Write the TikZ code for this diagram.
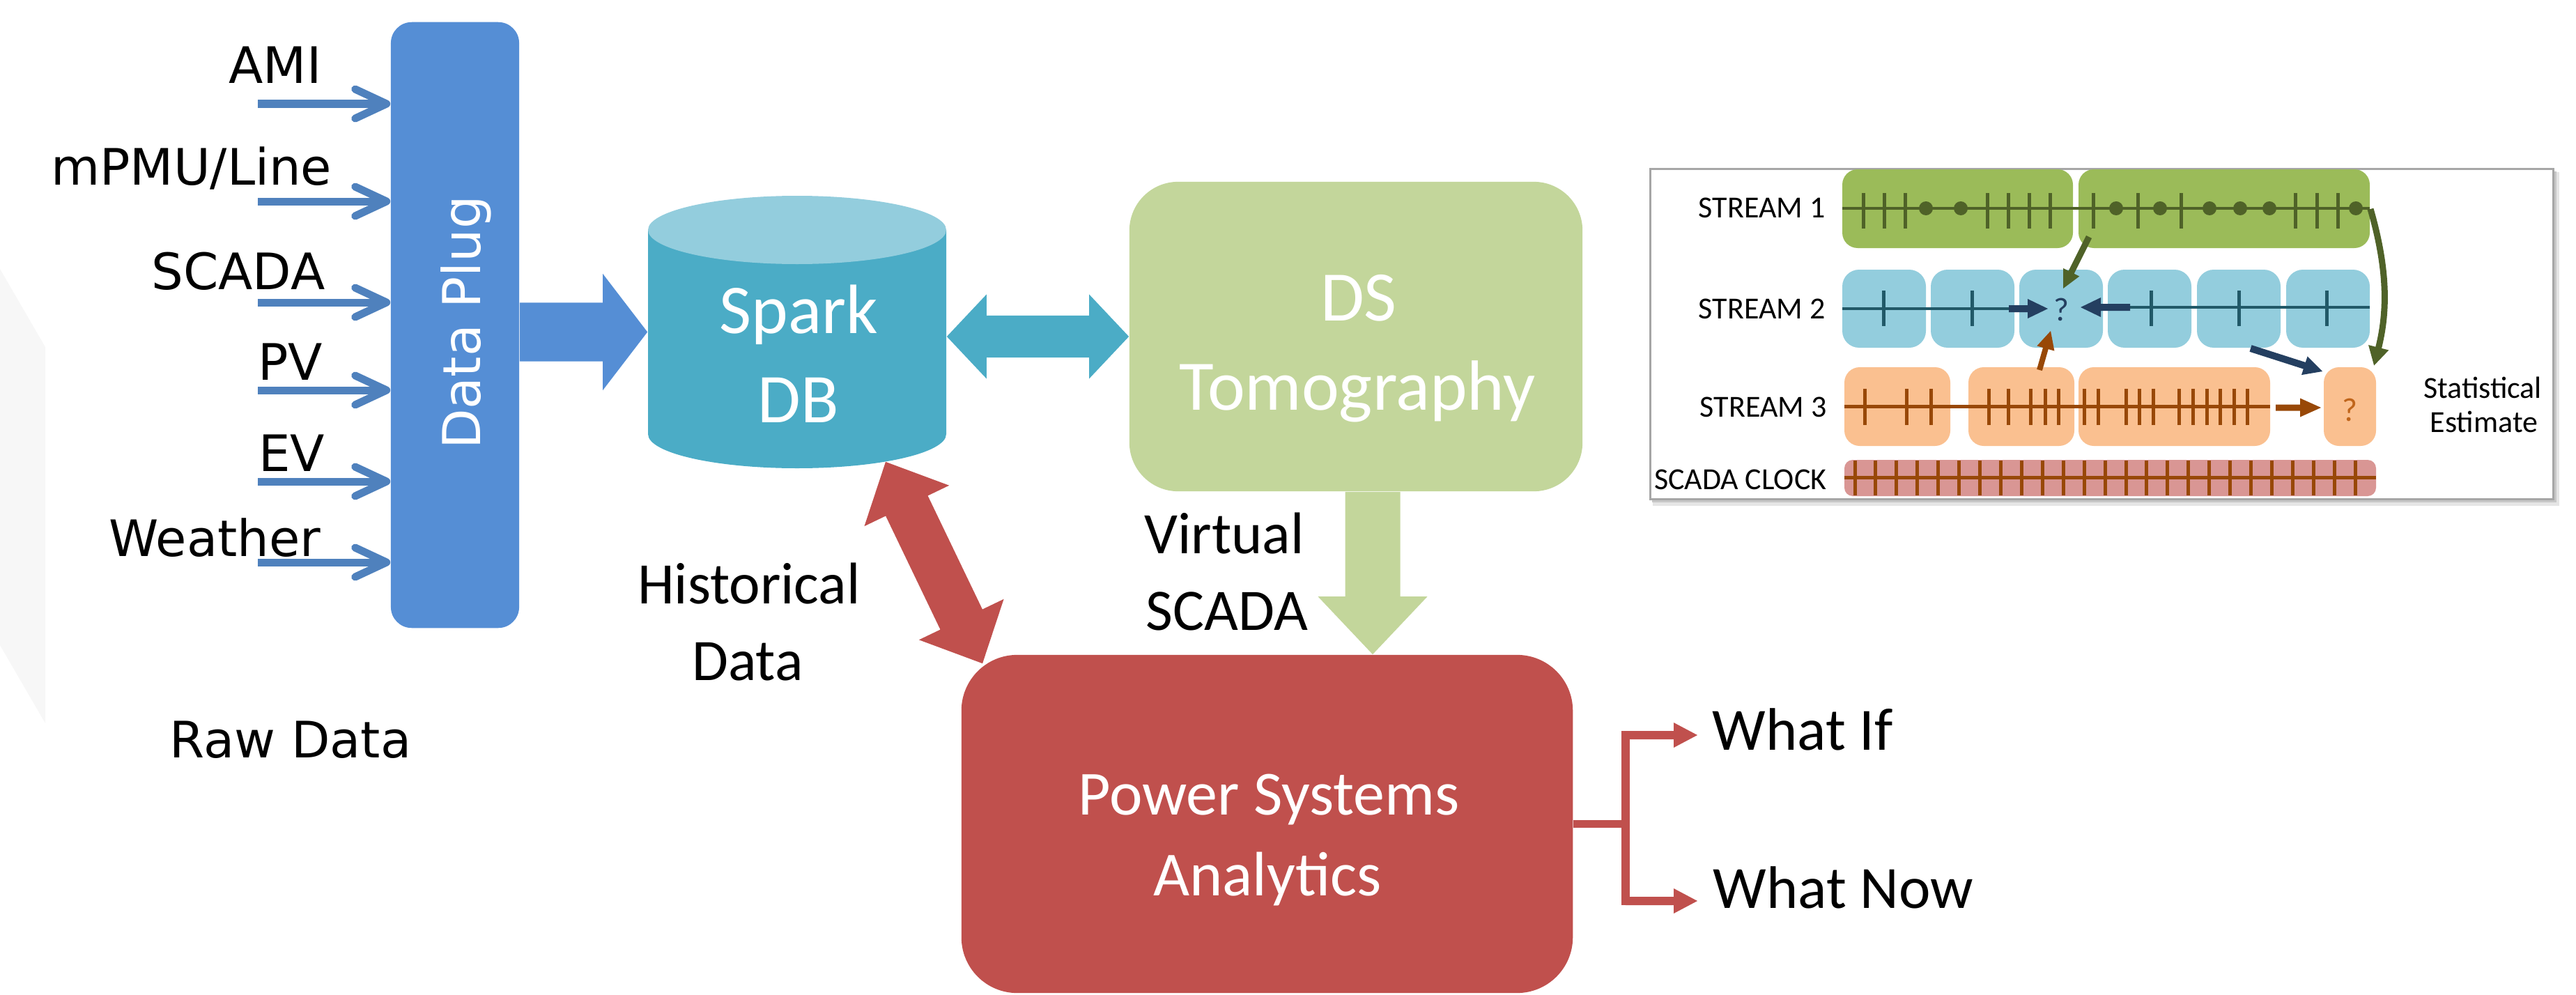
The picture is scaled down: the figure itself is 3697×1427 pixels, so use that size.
\documentclass[tikz,border=0pt]{standalone}
\usepackage{fontspec}
\setmainfont{Carlito}
\newfontfamily\dvs{DejaVu Sans}
\usetikzlibrary{calc,arrows.meta}

\definecolor{dpblue}{HTML}{558ED5}
\definecolor{arrblue}{HTML}{4F81BD}
\definecolor{sparkbody}{HTML}{4BACC6}
\definecolor{sparktop}{HTML}{93CDDD}
\definecolor{dsgreen}{HTML}{C3D69B}
\definecolor{psared}{HTML}{C0504D}
\definecolor{gone}{HTML}{9BBB59}
\definecolor{goned}{HTML}{4F6228}
\definecolor{btwo}{HTML}{93CDDD}
\definecolor{btwod}{HTML}{215968}
\definecolor{navy}{HTML}{243F60}
\definecolor{othree}{HTML}{FAC090}
\definecolor{othreed}{HTML}{984807}
\definecolor{oq}{HTML}{C0651B}
\definecolor{clk}{HTML}{D99694}

% block arrow, single head: #1 start, #2 tip, #3 shaft half width, #4 head length, #5 head half width, #6 colour
\newcommand{\blkarrow}[6]{%
  \coordinate (qH) at ($(#2)!#4!(#1)$);
  \fill[#6] ($(#1)!#3!90:(#2)$) -- ($(qH)!#3!90:(#2)$) -- ($(qH)!#5!90:(#2)$) -- (#2)
    -- ($(qH)!#5!-90:(#2)$) -- ($(qH)!#3!-90:(#2)$) -- ($(#1)!#3!-90:(#2)$) -- cycle;}
% block arrow, two heads
\newcommand{\blkdarrow}[6]{%
  \coordinate (qA) at ($(#1)!#4!(#2)$);
  \coordinate (qB) at ($(#2)!#4!(#1)$);
  \fill[#6] (#1) -- ($(qA)!#5!90:(#2)$) -- ($(qA)!#3!90:(#2)$) -- ($(qB)!#3!90:(#2)$)
    -- ($(qB)!#5!90:(#2)$) -- (#2) -- ($(qB)!#5!-90:(#2)$) -- ($(qB)!#3!-90:(#2)$)
    -- ($(qA)!#3!-90:(#2)$) -- ($(qA)!#5!-90:(#2)$) -- cycle;}

\begin{document}
\begin{tikzpicture}[x=0.01cm,y=-0.01cm,
  lbl/.style={font=\dvs\fontsize{20.5pt}{24pt}\selectfont, inner sep=0pt, text=black},
  inarr/.style={draw=arrblue, line width=0.11cm, -{Straight Barb[length=0.45cm,width=0.42cm,round]}},
  big/.style={font=\fontsize{28.5pt}{34pt}\selectfont, text=white, inner sep=0pt, anchor=base},
  mid/.style={font=\fontsize{24pt}{29pt}\selectfont, inner sep=0pt, anchor=base},
  ins/.style={font=\fontsize{12.5pt}{15pt}\selectfont, inner sep=0pt},
  tick/.style={line width=0.05cm},
  psaline/.style={draw=psared, line width=0.115cm},
]
\useasboundingbox (0,0) rectangle (3697,1427);

% faint background shape
\fill[black!3] (0,386) -- (65,498) -- (65,1038) -- (0,926) -- cycle;

% ---------- Data Plug ----------
\node[fill=dpblue, rounded corners=0.3cm, minimum width=1.84cm, minimum height=8.69cm, inner sep=0pt] (dp) at (653,466.5) {};
\node[rotate=90, anchor=base, text=white, font=\dvs\fontsize{21.3pt}{25pt}\selectfont, inner sep=0pt] (dptext) at (689,463) {Data Plug};

\node[lbl, anchor=base east] (lami) at (462,119) {AMI};
\node[lbl, anchor=base east] (lpmu) at (477,265) {mPMU/Line};
\node[lbl, anchor=base east] (lscada) at (467,415) {SCADA};
\node[lbl, anchor=base east] (lpv) at (464,545) {PV};
\node[lbl, anchor=base east] (lev) at (467,676) {EV};
\node[lbl, anchor=base east] (lweather) at (461,798) {Weather};
\node[lbl, anchor=base] (lraw) at (417,1087) {Raw Data};

\foreach \n/\yy in {1/149,2/289,3/434,4/560,5/691,6/807}{
  \coordinate (in\n) at (370,\yy);
  \draw[inarr] (in\n) -- (in\n -| dp.west);
}

% ---------- Spark DB ----------
\node[minimum width=4.28cm, minimum height=3.91cm, inner sep=0pt] (spark) at (1144,476.5) {};
\fill[sparkbody] (930,330) -- (930,623) arc[start angle=180, end angle=0, x radius=214, y radius=49] -- (1358,330) -- cycle;
\fill[sparktop] (1144,330) ellipse[x radius=214, y radius=49];
\node[big] (sp1) at (1146,478) {Spark};
\node[big] (sp2) at (1146,606) {DB};

% ---------- DS Tomography ----------
\node[fill=dsgreen, rounded corners=0.7cm, minimum width=6.5cm, minimum height=4.44cm, inner sep=0pt] (ds) at (1946,483) {};
\node[big, font=\fontsize{29pt}{34pt}\selectfont] (ds1) at (1950,460) {DS};
\node[big, font=\fontsize{29pt}{34pt}\selectfont] (ds2) at (1948,588) {Tomography};

% ---------- Power Systems Analytics ----------
\node[fill=psared, rounded corners=0.8cm, minimum width=8.77cm, minimum height=4.85cm, inner sep=0pt] (psa) at (1818.5,1182.5) {};
\node[big, font=\fontsize{25.6pt}{30pt}\selectfont] (psa1) at (1821,1169) {Power Systems};
\node[big, font=\fontsize{25.6pt}{30pt}\selectfont] (psa2) at (1819,1285) {Analytics};

% labels
\node[mid] (vs1) at (1757,794) {Virtual};
\node[mid] (vs2) at (1761,904) {SCADA};
\node[mid] (hd1) at (1075,866) {Historical};
\node[mid] (hd2) at (1073,976) {Data};
\node[mid, anchor=base west, font=\fontsize{24.5pt}{29pt}\selectfont] (whatif) at (2457,1076) {What If};
\node[mid, anchor=base west, font=\fontsize{24.5pt}{29pt}\selectfont] (whatnow) at (2458,1303) {What Now};

% ---------- block arrows ----------
\coordinate (a1s) at (dp.east |- spark.west);
\blkarrow{a1s}{spark.west}{0.42cm}{0.64cm}{0.835cm}{dpblue}

\coordinate (a2s) at (spark.east |- ds.west);
\blkdarrow{a2s}{ds.west}{0.30cm}{0.57cm}{0.605cm}{sparkbody}

\coordinate (dsv) at ($(ds.south)+(24,0)$);
\coordinate (psv) at (dsv |- psa.north);
\blkarrow{dsv}{psv}{0.395cm}{0.83cm}{0.785cm}{dsgreen}

\coordinate (rA) at ($(spark.south)+(127,-10)$);
\coordinate (rB) at ($(psa.north west)+(31,13)$);
\blkdarrow{rA}{rB}{0.335cm}{0.70cm}{0.675cm}{psared}

% outputs
\coordinate (brj) at ($(psa.east)+(75,0)$);
\coordinate (wi) at ($(whatif.base west)+(-21,-21)$);
\coordinate (wn) at ($(whatnow.base west)+(-22,-10)$);
\coordinate (wis) at (brj |- wi);
\coordinate (wns) at (brj |- wn);
\draw[psaline] (psa.east) -- (brj);
\draw[psaline, line cap=rect] (wis) -- (wns);
\blkarrow{wis}{wi}{0.06cm}{0.34cm}{0.18cm}{psared}
\blkarrow{wns}{wn}{0.06cm}{0.34cm}{0.18cm}{psared}

% ---------- inset ----------
\fill[black!10] (2372,247) rectangle (3673,726);
\fill[black!22] (2371,246) rectangle (3669,721);
\draw[draw=black!35, line width=0.03cm, fill=white] (2368,242) rectangle (3664,716);

\node[ins, anchor=base east] (st1) at (2620,312) {STREAM 1};
\node[ins, anchor=base east] (st2) at (2620,457) {STREAM 2};
\node[ins, anchor=base east] (st3) at (2622,598) {STREAM 3};
\node[ins, anchor=base east] (stc) at (2622,702) {SCADA CLOCK};
\node[ins, anchor=base] (se1) at (3563,571) {Statistical};
\node[ins, anchor=base] (se2) at (3565,620) {Estimate};

% stream 1
\foreach \a/\b in {2644/2975, 2983/3401} \fill[gone, rounded corners=0.22cm] (\a,243) rectangle (\b,356);
\draw[goned, line width=0.04cm] (2644,299) -- (3401,299);
\foreach \t in {2674,2704,2734,2852,2882,2912,2942,3004,3068,3130,3294,3325,3355}
  \draw[goned, tick] (\t,277) -- (\t,328);
\foreach \t in {2764,2814,3037,3100,3171,3215,3257,3381}
  \fill[goned] (\t,299) ellipse[x radius=10, y radius=10];

% stream 2
\foreach \a in {2644,2771,2898,3025,3153,3281}
  \fill[btwo, rounded corners=0.24cm] (\a,387) rectangle ++(120,112);
\draw[btwod, line width=0.04cm] (2644,443) -- (2890,443);
\draw[btwod, line width=0.04cm] (3050,441) -- (3401,441);
\foreach \t in {2703,2830,3087,3213,3339}
  \draw[btwod, tick] (\t,417) -- (\t,468);
\node[ins, text=navy, font=\fontsize{13.5pt}{16pt}\selectfont] (q2) at (2958,444) {?};

% stream 3
\foreach \a/\b in {2647/2799, 2825/2977, 2983/3258, 3335/3410}
  \fill[othree, rounded corners=0.22cm] (\a,527) rectangle (\b,640);
\draw[othreed, line width=0.05cm] (2647,583) -- (3258,583);
\foreach \t in {2676,2736,2771,2854,2882,2914,2935,2954,2991,3011,3051,3070,3090,3127,3147,3167,3186,3206,3225}
  \draw[othreed, tick] (\t,558) -- (\t,610);
\node[ins, text=oq, font=\fontsize{13.5pt}{16pt}\selectfont] (q3) at (3372,588) {?};

% scada clock
\fill[clk, rounded corners=0.12cm] (2647,660) rectangle (3410,712);
\draw[othreed, line width=0.05cm] (2647,685) -- (3410,685);
\foreach \i in {0,...,24}
  \draw[othreed, tick] ({2662+29.92*\i},661) -- ++(0,50);

% inset arrows
\coordinate (n1a) at (2883,443); \coordinate (n1b) at (2939,443);
\blkarrow{n1a}{n1b}{0.05cm}{0.29cm}{0.14cm}{navy}
\coordinate (n2a) at (3057,441); \coordinate (n2b) at (2986,441);
\blkarrow{n2a}{n2b}{0.05cm}{0.29cm}{0.14cm}{navy}
\coordinate (ga1) at (2998,340); \coordinate (ga2) at (2961,414);
\blkarrow{ga1}{ga2}{0.045cm}{0.26cm}{0.13cm}{goned}
\draw[goned, line width=0.09cm, -{Triangle[length=0.27cm,width=0.28cm]}] (3402,300) .. controls (3428,390) and (3426,450) .. (3407,525);
\coordinate (na1) at (3230,500); \coordinate (na2) at (3333,533);
\blkarrow{na1}{na2}{0.05cm}{0.27cm}{0.14cm}{navy}
\coordinate (oa1) at (2927,531); \coordinate (oa2) at (2943,475);
\blkarrow{oa1}{oa2}{0.04cm}{0.26cm}{0.13cm}{othreed}
\coordinate (ob1) at (3266,585); \coordinate (ob2) at (3331,585);
\blkarrow{ob1}{ob2}{0.045cm}{0.30cm}{0.135cm}{othreed}
\end{tikzpicture}
\end{document}
